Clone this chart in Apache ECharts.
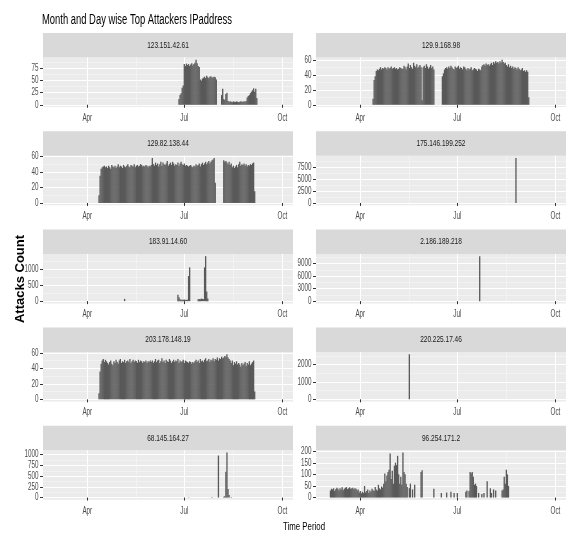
<!DOCTYPE html>
<html>
<head>
<meta charset="utf-8">
<script src="https://cdn.jsdelivr.net/npm/echarts@6/dist/echarts.min.js"></script>
<style>
  html, body { margin: 0; padding: 0; background: #fff; }
  #chart { width: 580px; height: 534px; }
</style>
</head>
<body>
<div id="chart"></div>
<script>
// ---------------- data ----------------

const chartTitle = "Month and Day wise Top Attackers IPaddress";
const xTitle = "Time Period";
const yTitle = "Attacks Count";

const ipLabels = [
    "123.151.42.61", "129.9.168.98",
    "129.82.138.44", "175.146.199.252",
    "183.91.14.60", "2.186.189.218",
    "203.178.148.19", "220.225.17.46",
    "68.145.164.27", "96.254.171.2",
];

// daily counts, one value per day from the start date
const start123 = "2018-06-26";
const counts123 = [
    12, 20, 24, 35, 40,
    84, 80, 85, 82, 84, 80, 83, 86, 81, 84, 87, 93, 86, 80, 78,
    52, 50, 54, 56, 58, 55, 60, 57, 55, 58, 59, 56, 57, 58, 57, 52,
    0, 0, 0, 0,
    20, 33, 12, 10, 22, 25, 8,
    6, 7, 6, 5, 7, 6, 6, 7, 6, 5, 6, 7, 6, 6, 7, 6, 8,
    15, 18, 20, 24, 27, 30, 34, 27, 33, 14,
];

const start129_9 = "2018-04-13";
const counts129_9 = [
    8, 33, 38, 45,
    47, 46, 48, 50, 47, 49, 48, 50, 49, 47, 50, 48, 49, 51, 48,
    49, 50, 48, 49, 47, 48, 50, 49, 48,
    48, 52, 50, 47, 51, 55, 49, 53, 50, 48, 56, 52, 50, 54, 49, 51, 53, 50,
    6,
    50, 52, 49, 54, 51, 48, 50, 53, 49, 51, 47,
    0, 0, 0, 0, 0, 0, 0,
    38, 42,
    47, 49, 50, 48, 51, 49, 52, 50, 48, 47, 51, 49, 50, 52, 48, 50, 49, 47,
    51, 50, 48, 46, 49, 47, 48, 50, 46, 47, 49, 48, 47, 45, 48, 47, 46,
    51, 53, 54, 52, 55, 53, 54, 52,
    54, 56, 53, 57, 55, 58, 56, 57, 55, 58, 56, 60, 57, 55, 56, 53, 51,
    54, 50, 52, 49, 51, 48, 50, 49, 47, 50, 48, 46, 47, 49, 45, 46, 44,
    46, 44, 10,
];

const start129_82 = "2018-04-12";
const counts129_82 = [
    10, 35,
    44, 46, 47, 48, 46,
    47, 45, 48, 46, 44, 49, 47, 46, 48, 45, 47, 50, 46, 48, 47, 45, 49, 47,
    46, 48, 50, 47, 46, 49, 48, 47, 50, 46, 48, 49, 47, 48, 50, 49, 47,
    48, 47, 49, 48, 46, 48, 47, 49,
    58, 50, 48, 52, 49, 51, 47, 50, 53, 48, 52, 50, 49, 51, 54, 48,
    50, 52, 49, 53, 51, 48, 50, 49, 52, 48, 51, 53, 50, 49, 51, 48,
    49, 48, 47, 48, 49, 47, 46, 48, 47,
    50, 48, 49, 51, 47, 50, 52, 49, 51, 53, 50, 52, 54, 51, 53, 55, 56, 58,
    26,
    0, 0, 0, 0, 0, 0, 0,
    55, 53, 54, 52, 50, 53, 49, 51,
    46, 48, 45, 47, 49, 46,
    50, 53, 48, 50, 49, 51, 48, 50, 47, 49, 48, 50, 49, 51, 52,
    15,
];

const hits175 = [["2018-08-25", 9400]];

const hits183 = [
    ["2018-05-06", 70],
    ["2018-06-25", 200], ["2018-06-26", 120], ["2018-06-27", 60], ["2018-06-28", 40],
    ["2018-06-29", 45], ["2018-06-30", 40], ["2018-07-01", 50], ["2018-07-02", 40],
    ["2018-07-03", 40], ["2018-07-04", 45], ["2018-07-05", 780], ["2018-07-06", 1050],
    ["2018-07-14", 60], ["2018-07-15", 70], ["2018-07-16", 60], ["2018-07-17", 80],
    ["2018-07-18", 70], ["2018-07-19", 60], ["2018-07-20", 1050], ["2018-07-21", 1400],
    ["2018-07-22", 300], ["2018-07-23", 80],
];

const hits2_186 = [["2018-07-22", 10800]];

const start203 = "2018-04-12";
const counts203 = [
    8, 36,
    46, 50, 52, 48, 51, 49,
    47, 45, 48, 50, 46, 44, 49, 47, 51, 48, 46, 50, 52, 47, 49, 48, 51,
    47, 49, 50, 48, 52, 47, 49, 51, 48, 50, 49, 47, 51, 48, 50, 49, 47,
    49, 48, 50, 47, 49, 48, 50, 48,
    50, 47, 49, 52, 48, 50, 51, 47, 49, 53, 48, 50, 47, 51, 49, 48, 52,
    50, 47, 49, 51, 48, 50, 49, 52, 47, 50, 48, 49, 51, 47, 50, 49,
    48, 47, 49, 48, 46, 48, 47,
    49, 51, 48, 50, 47, 52, 49, 50, 48, 51, 53, 49, 50, 52, 48, 51, 50,
    53, 49, 52, 51, 54, 50, 53, 52, 55, 53, 54, 56, 55, 58, 54, 52,
    50, 47, 50, 44, 48, 46, 49, 45, 47,
    45, 42, 47, 44, 46, 48, 43, 47, 45, 49, 44, 46, 48, 50,
    10,
];

const hits220 = [["2018-05-17", 2600]];

const hits68 = [
    ["2018-07-05", 8], ["2018-07-27", 10], ["2018-08-02", 980],
    ["2018-08-07", 20], ["2018-08-08", 30], ["2018-08-09", 600], ["2018-08-10", 1050],
    ["2018-08-11", 200], ["2018-08-12", 60], ["2018-08-14", 10],
];

const start96 = "2018-03-04";
const counts96 = [
    30, 38, 35, 40, 28, 36, 42, 38, 30, 40, 35, 44, 32, 38, 42, 45, 36, 40, 44,
    38, 40, 42, 36, 40, 38, 30, 35,
    22, 28, 18, 25, 20, 50,
    22, 28, 35, 20, 30, 25, 38, 32, 28, 45, 35, 30, 55, 40, 35, 48, 42,
    60, 104, 70, 95, 110,
    120, 190, 80,
    116, 60, 137, 150, 140,
    180, 100, 60, 90, 55, 194,
    110, 100, 60, 45, 0, 40,
    60, 0, 35, 0, 55, 0,
    0, 0, 0, 0,
    110, 118,
    0, 0, 0, 0, 0, 0, 0, 0, 0, 0,
    38,
    0, 0, 0, 0, 0, 0,
    20, 0, 0, 0, 0, 22, 0, 0, 0, 25, 0, 0, 20, 0, 0, 20,
    0, 0, 0, 0, 0, 0, 0,
    25, 30, 0, 28, 110, 105, 110, 90, 55, 60, 50, 0, 20, 0, 0, 15, 0, 20, 0, 0,
    70, 0, 0, 40, 20, 0, 35, 0, 30, 0, 0, 0, 0, 0, 30, 35, 90, 60, 120, 100, 50, 0,
];

// y breaks per panel (free y scales)
const yBreaks = [
    [0, 25, 50, 75], [0, 20, 40, 60],
    [0, 20, 40, 60], [0, 2500, 5000, 7500],
    [0, 500, 1000], [0, 3000, 6000, 9000],
    [0, 20, 40, 60], [0, 1000, 2000],
    [0, 250, 500, 750, 1000], [0, 50, 100, 150, 200],
];

// shared x breaks
const xBreakDates = ["2018-04-01", "2018-07-01", "2018-10-01"];
const xBreakLabels = ["Apr", "Jul", "Oct"];

// ---------------- helpers ----------------

const DAY = 86400000;
const toTime = (s) => Date.parse(s + "T00:00:00Z");
const daily = (start, values) => values.map((v, k) => [toTime(start) + k * DAY, v]);
const pairs = (list) => list.map(([d, v]) => [toTime(d), v]);

const seriesData = [
    daily(start123, counts123), daily(start129_9, counts129_9),
    daily(start129_82, counts129_82), pairs(hits175),
    pairs(hits183), pairs(hits2_186),
    daily(start203, counts203), pairs(hits220),
    pairs(hits68), daily(start96, counts96),
];

const xBreaks = xBreakDates.map(toTime);
const xMinor = xBreaks.slice(1).map((t, k) => (t + xBreaks[k]) / 2);
const xMin = toTime("2018-02-18") + 0.45 * DAY;
const xMax = toTime("2018-10-10") + 0.94 * DAY;

function minorBreaks(br, lo, hi) {
    const step = br[1] - br[0];
    const out = [];
    for (let k = -1; k < br.length; k++) {
        const v = br[0] + step * (k + 0.5);
        if (v > lo && v < hi) out.push(v);
    }
    return out;
}

// ---------------- layout ----------------

const colLeft = [43, 316];
const panelW = 250;
const rowTop0 = 33;
const rowPitch = 98.2;
const stripH = 24.5;
const panelH = 49.5;

const FONT = '"Liberation Sans", Arial, sans-serif';

// the reference is squeezed sideways: text is drawn narrow with scaleX
const measureCtx = document.createElement("canvas").getContext("2d");
function fitScale(text, font, target) {
    measureCtx.font = font;
    return target / measureCtx.measureText(text).width;
}

const stripFont = "9.5px " + FONT;
const stripScale = fitScale("123.151.42.61", stripFont, 41.7);
const titleFont = "14px " + FONT;
const titleScale = fitScale(chartTitle, titleFont, 190);
const xTitleFont = "11px " + FONT;
const xTitleScale = fitScale(xTitle, xTitleFont, 42);
const tickFont = "10px " + FONT;
const tickScale = 0.63;

const grids = [], xAxes = [], yAxes = [], series = [];
const graphics = [];

ipLabels.forEach((ip, i) => {
    const row = Math.floor(i / 2), col = i % 2;
    const stripTop = rowTop0 + row * rowPitch;
    const left = colLeft[col];

    grids.push({
        left, top: stripTop + stripH, width: panelW, height: panelH,
        show: true, backgroundColor: "#EBEBEB", borderWidth: 0,
        outerBoundsMode: "none",
    });

    const data = seriesData[i];
    const m = Math.max(...data.map((d) => d[1]));
    const yLo = -0.05 * m, yHi = 1.05 * m;

    // dates are plain timestamps on a value axis; breaks are set by hand
    xAxes.push({
        type: "value", gridIndex: i, min: xMin, max: xMax,
        axisLine: { show: false },
        axisTick: { show: true, length: 3, customValues: xBreaks, lineStyle: { color: "#333", width: 1 } },
        axisLabel: { show: false, customValues: xBreaks },
        splitLine: { show: true, lineStyle: { color: "#FFFFFF", width: 1 } },
    });
    xAxes.push({
        type: "value", gridIndex: i, min: xMin, max: xMax, position: "top",
        axisLine: { show: false },
        axisTick: { show: false, customValues: xMinor },
        axisLabel: { show: false },
        splitLine: { show: true, lineStyle: { color: "#F7F7F7", width: 0.6 } },
    });

    const br = yBreaks[i];
    yAxes.push({
        type: "value", gridIndex: i, min: yLo, max: yHi,
        axisLine: { show: false },
        axisTick: { show: true, length: 3, customValues: br, lineStyle: { color: "#333", width: 1 } },
        axisLabel: { show: false, customValues: br },
        splitLine: { show: true, lineStyle: { color: "#FFFFFF", width: 1 } },
    });
    yAxes.push({
        type: "value", gridIndex: i, min: yLo, max: yHi, position: "right",
        axisLine: { show: false },
        axisTick: { show: false, customValues: minorBreaks(br, yLo, yHi) },
        axisLabel: { show: false },
        splitLine: { show: true, lineStyle: { color: "#F7F7F7", width: 0.6 } },
    });

    series.push({
        type: "bar", name: ip,
        xAxisIndex: 2 * i, yAxisIndex: 2 * i,
        data, barWidth: 1.3,
        itemStyle: { color: "#595959" },
        silent: true,
    });

    // facet strip
    graphics.push({
        type: "rect", left, top: stripTop,
        shape: { width: panelW, height: stripH },
        style: { fill: "#D9D9D9" },
        silent: true,
    });
    graphics.push({
        type: "text", x: left + panelW / 2, y: stripTop + stripH / 2, scaleX: stripScale,
        style: { text: ip, font: stripFont, fill: "#1A1A1A", align: "center", verticalAlign: "middle" },
        silent: true,
    });
});

graphics.push({
    type: "text", x: 42, y: 20, scaleX: titleScale,
    style: { text: chartTitle, font: titleFont, fill: "#000", align: "left", verticalAlign: "middle" },
});
graphics.push({
    type: "text", x: 304, y: 527, scaleX: xTitleScale,
    style: { text: xTitle, font: xTitleFont, fill: "#000", align: "center", verticalAlign: "middle" },
});
graphics.push({
    type: "text", x: 20, y: 279, rotation: Math.PI / 2,
    style: { text: yTitle, font: "bold 13px " + FONT, fill: "#000", align: "center", verticalAlign: "middle" },
});

const chart = echarts.init(document.getElementById("chart"), null, { renderer: "canvas" });
chart.setOption({
    animation: false,
    backgroundColor: "#FFFFFF",
    grid: grids,
    xAxis: xAxes,
    yAxis: yAxes,
    series,
    graphic: { elements: graphics },
});

// tick labels: placed with the axes' own scales, drawn narrow like the reference
const tickLabels = [];
ipLabels.forEach((ip, i) => {
    const g = grids[i];
    const bottom = g.top + g.height;
    xBreaks.forEach((t, k) => {
        const px = chart.convertToPixel({ xAxisIndex: 2 * i }, t);
        tickLabels.push({
            type: "text", x: px, y: bottom + 11, scaleX: tickScale, silent: true,
            style: { text: xBreakLabels[k], font: tickFont, fill: "#4D4D4D", align: "center", verticalAlign: "middle" },
        });
    });
    yBreaks[i].forEach((v) => {
        const py = chart.convertToPixel({ yAxisIndex: 2 * i }, v);
        tickLabels.push({
            type: "text", x: g.left - 4.5, y: py, scaleX: tickScale, silent: true,
            style: { text: String(v), font: tickFont, fill: "#4D4D4D", align: "right", verticalAlign: "middle" },
        });
    });
});
chart.setOption({ graphic: { elements: graphics.concat(tickLabels) } });
</script>
</body>
</html>
